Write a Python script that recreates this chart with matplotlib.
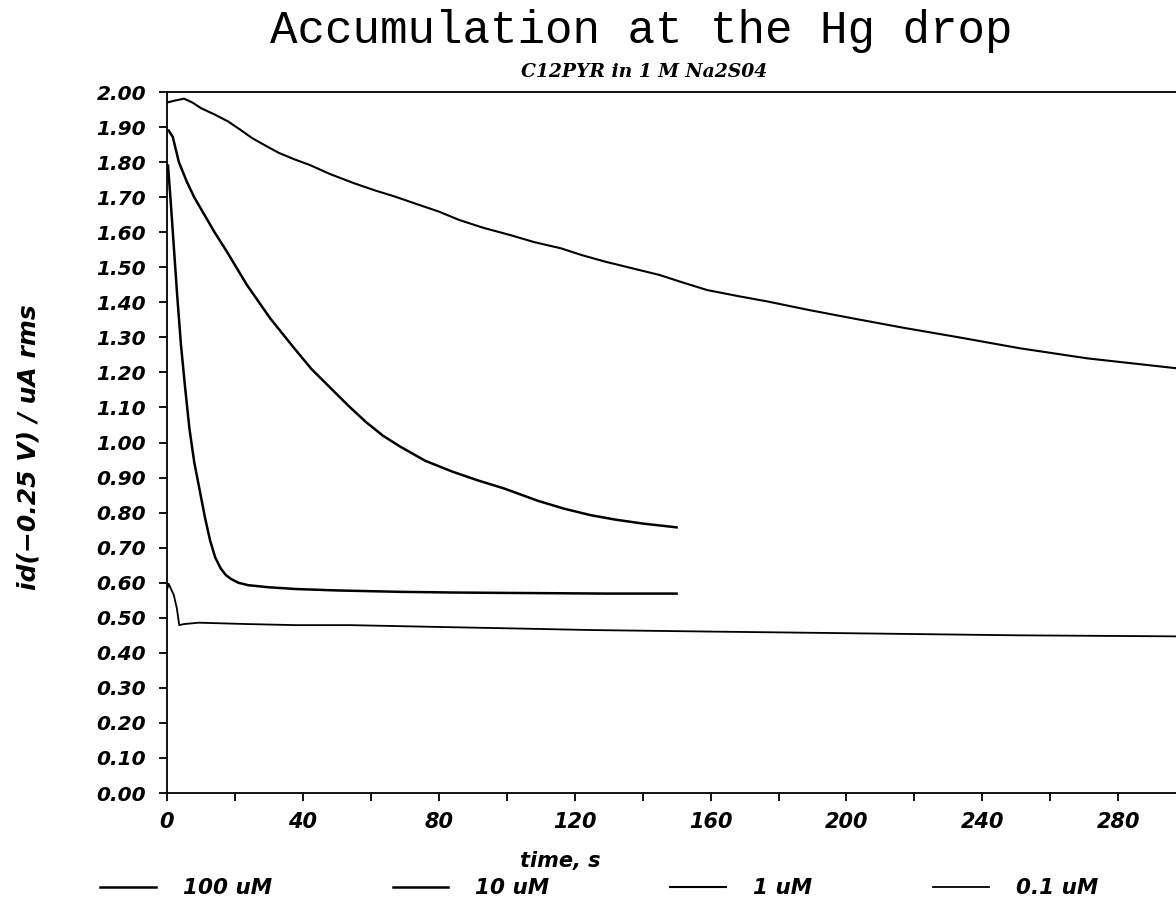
import matplotlib
matplotlib.use("Agg")
import matplotlib.pyplot as plt
from matplotlib.ticker import MultipleLocator

# accumulation curves (time in s, id in uA rms)
t_100 = [0.3, 1.0, 2.0, 3.0, 4.1, 5.3, 6.6, 8.0, 9.7, 11.2, 12.7, 14.2, 15.8, 17.3,
         18.8, 21, 23.9, 30, 38.1, 50, 68.7, 85, 99, 115, 130, 150]
v_100 = [1.79, 1.70, 1.56, 1.42, 1.28, 1.16, 1.04, 0.945, 0.86, 0.785, 0.72, 0.672,
         0.641, 0.622, 0.611, 0.600, 0.593, 0.587, 0.582, 0.578, 0.574, 0.572,
         0.571, 0.570, 0.569, 0.569]

t_10 = [0.5, 1.7, 3.5, 5.8, 8.0, 10.7, 14.0, 17.6, 23.5, 30.4, 37.2, 42.5, 48.3,
        53.5, 58.5, 63.5, 68.7, 76, 84, 91.5, 99.2, 109.4, 117, 124.6, 132, 139.9,
        150]
v_10 = [1.89, 1.872, 1.80, 1.745, 1.70, 1.655, 1.60, 1.545, 1.45, 1.354, 1.272,
        1.21, 1.154, 1.104, 1.059, 1.02, 0.988, 0.948, 0.917, 0.892, 0.869, 0.833,
        0.811, 0.793, 0.780, 0.769, 0.758]

t_1 = [0, 2, 5, 7.5, 10, 14, 18, 21.5, 25, 29, 33, 37.5, 42, 48, 55, 61, 67, 73,
       80, 86, 93, 101, 108, 116, 122, 129, 137, 145, 152, 159, 168, 177, 189, 202,
       217, 232, 251, 271, 285, 297]
v_1 = [1.97, 1.975, 1.981, 1.97, 1.954, 1.936, 1.916, 1.893, 1.869, 1.847, 1.826,
       1.808, 1.792, 1.766, 1.740, 1.72, 1.702, 1.682, 1.659, 1.635, 1.613, 1.592,
       1.572, 1.554, 1.535, 1.516, 1.497, 1.478, 1.456, 1.435, 1.418, 1.402, 1.378,
       1.354, 1.327, 1.302, 1.269, 1.240, 1.225, 1.212]

t_01 = [0, 0.5, 2.0, 2.9, 3.6, 5, 9.3, 24, 38, 54, 79, 100, 125, 157, 200, 250, 297]
v_01 = [0.58, 0.597, 0.565, 0.527, 0.479, 0.482, 0.486, 0.482, 0.479, 0.479, 0.474,
        0.47, 0.465, 0.461, 0.456, 0.450, 0.447]

labels = ["100 uM", "10 uM", "1 uM", "0.1 uM"]

bi = dict(family="DejaVu Sans", weight="bold", style="italic")

fig = plt.figure(figsize=(11.76, 9.13), dpi=100)
ax = fig.add_axes([0.142, 0.1314, 0.858, 0.7678])

ax.plot(t_100, v_100, color="black", lw=1.8, label=labels[0])
ax.plot(t_10, v_10, color="black", lw=1.8, label=labels[1])
ax.plot(t_1, v_1, color="black", lw=1.5, label=labels[2])
ax.plot(t_01, v_01, color="black", lw=1.3, label=labels[3])

ax.spines["right"].set_visible(False)
for s in ["left", "bottom", "top"]:
    ax.spines[s].set_linewidth(1.3)

ax.xaxis.set_major_locator(MultipleLocator(40))
ax.xaxis.set_minor_locator(MultipleLocator(20))
ax.yaxis.set_major_locator(MultipleLocator(0.1))
ax.tick_params(axis="both", which="both", direction="out", length=6, width=1.3)
ax.tick_params(axis="x", pad=8)
ax.tick_params(axis="y", pad=9)
ax.set_xlim(0, 297)
ax.set_ylim(0, 2.0)
ax.set_xticks(ax.get_xticks())
ax.set_yticks(ax.get_yticks())
ax.set_xticklabels([f"{int(v)}" for v in ax.get_xticks()], fontsize=15, **bi)
ax.set_yticklabels([f"{v:.2f}" for v in ax.get_yticks()], fontsize=14.5, **bi)
ax.set_xlim(0, 297)
ax.set_ylim(0, 2.0)

fig.text(0.545, 0.966, "Accumulation at the Hg drop", ha="center", va="center",
         family="Liberation Mono", fontsize=33)
fig.text(0.548, 0.921, "C12PYR in 1 M Na2S04", ha="center", va="center",
         family="DejaVu Serif", weight="bold", style="italic", fontsize=13.5)
fig.text(0.476, 0.057, "time, s", ha="center", va="center", fontsize=15, **bi)
fig.text(0.024, 0.51, "id(\u22120.25 V) / uA rms", ha="center", va="center",
         rotation=90, fontsize=18, **bi)

fig.legend(loc="lower left", bbox_to_anchor=(0.085, 0.016), ncol=4, frameon=False,
           prop=dict(size=15.5, **bi), handlelength=2.6, handletextpad=1.25,
           columnspacing=5.6, borderpad=0, borderaxespad=0)

plt.savefig("out.png", dpi=100)
